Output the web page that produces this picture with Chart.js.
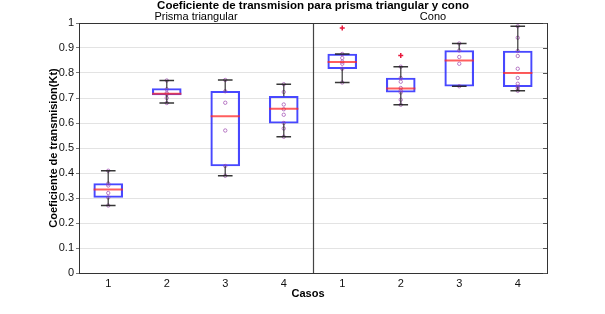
<!DOCTYPE html>
<html><head><meta charset="utf-8">
<script src="https://cdn.jsdelivr.net/npm/chart.js@4/dist/chart.umd.min.js"></script>
<style>html,body{margin:0;padding:0;background:#fff}#wrap{width:605px;height:314px}</style>
</head><body><div id="wrap"><canvas id="c" width="605" height="314"></canvas></div>
<script>
// ---- data ----
const chartTitle = 'Coeficiente de transmision para prisma triangular y cono';
const groupNames = ['Prisma triangular', 'Cono'];
const caseLabels = ['1','2','3','4','1','2','3','4'];
const casePositions = [1,2,3,4,5,6,7,8];
const yTitle = 'Coeficiente de transmision(Kt)';
const xTitle = 'Casos';

const q1      = [0.302, 0.712, 0.428, 0.599, 0.817, 0.723, 0.747, 0.745];
const medians = [0.334, 0.717, 0.627, 0.657, 0.844, 0.738, 0.850, 0.800];
const q3      = [0.358, 0.738, 0.727, 0.707, 0.876, 0.780, 0.890, 0.888];
const whiskLo = [0.270, 0.680, 0.389, 0.545, 0.762, 0.673, 0.747, 0.729];
const whiskHi = [0.409, 0.770, 0.772, 0.755, 0.876, 0.825, 0.918, 0.987];

const obs1 = [0.409, 0.358, 0.350, 0.320, 0.302, 0.270];
const obs2 = [0.770, 0.735, 0.720, 0.715, 0.700, 0.680];
const obs3 = [0.772, 0.727, 0.681, 0.570, 0.428, 0.389];
const obs4 = [0.755, 0.724, 0.674, 0.655, 0.633, 0.600, 0.578, 0.545];
const obs5 = [0.876, 0.860, 0.845, 0.837, 0.817, 0.762];
const obs6 = [0.825, 0.780, 0.765, 0.740, 0.730, 0.722, 0.693, 0.673];
const obs7 = [0.918, 0.890, 0.864, 0.837, 0.747];
const obs8 = [0.987, 0.941, 0.888, 0.868, 0.817, 0.780, 0.757, 0.745, 0.738, 0.729];
const observations = [obs1, obs2, obs3, obs4, obs5, obs6, obs7, obs8];

const outlierCases  = [5, 6];
const outlierValues = [0.980, 0.870];

// ---- build datasets ----
const pointData = [];
observations.forEach((arr, i) => arr.forEach(v => pointData.push({x: casePositions[i], y: v})));
const outlierData = outlierCases.map((c, i) => ({x: c, y: outlierValues[i]}));
const boxData = casePositions.map((p, i) => ({x: p, y: [q1[i], q3[i]]}));

const FONT = '"Liberation Sans", Arial, sans-serif';

const boxExtras = {
  id: 'boxExtras',
  beforeDatasetsDraw(chart) {
    const {ctx, scales: {x}, chartArea: a} = chart;
    ctx.save();
    ctx.strokeStyle = '#444';
    ctx.lineWidth = 1.2;
    const dx = Math.round(x.getPixelForValue(4.5)) + 0.5;
    ctx.beginPath(); ctx.moveTo(dx, a.top); ctx.lineTo(dx, a.bottom); ctx.stroke();
    ctx.restore();
  },
  afterDatasetsDraw(chart) {
    const {ctx, scales: {x, y}} = chart;
    ctx.save();
    casePositions.forEach((p, i) => {
      const px = x.getPixelForValue(p);
      const cap = x.getPixelForValue(p + 0.125) - px;
      const half = x.getPixelForValue(p + 0.25) - px;
      ctx.strokeStyle = 'rgba(40,40,40,0.75)';
      ctx.lineWidth = 1.5;
      ctx.beginPath();
      ctx.moveTo(px, y.getPixelForValue(q3[i])); ctx.lineTo(px, y.getPixelForValue(whiskHi[i]));
      ctx.moveTo(px, y.getPixelForValue(q1[i])); ctx.lineTo(px, y.getPixelForValue(whiskLo[i]));
      ctx.stroke();
      ctx.strokeStyle = 'rgba(20,20,20,0.85)';
      ctx.beginPath();
      const yh = y.getPixelForValue(whiskHi[i]), yl = y.getPixelForValue(whiskLo[i]);
      ctx.moveTo(px - cap, yh); ctx.lineTo(px + cap, yh);
      ctx.moveTo(px - cap, yl); ctx.lineTo(px + cap, yl);
      ctx.stroke();
      ctx.strokeStyle = 'rgba(255,40,40,0.75)';
      ctx.lineWidth = 2;
      const ym = y.getPixelForValue(medians[i]);
      ctx.beginPath(); ctx.moveTo(px - half, ym); ctx.lineTo(px + half, ym); ctx.stroke();
    });
    ctx.restore();
  },
  afterDraw(chart) {
    const {ctx, scales: {x, y}, chartArea: a} = chart;
    ctx.save();
    ctx.strokeStyle = '#333';
    ctx.lineWidth = 1;
    ctx.strokeRect(Math.round(a.left) + 0.5, Math.round(a.top) + 0.5, Math.round(a.right - a.left), Math.round(a.bottom - a.top));
    ctx.strokeStyle = '#555';
    y.ticks.forEach(t => {
      const py = Math.round(y.getPixelForValue(t.value)) + 0.5;
      ctx.beginPath(); ctx.moveTo(a.right - 4, py); ctx.lineTo(a.right, py); ctx.stroke();
    });
    ctx.fillStyle = '#000';
    ctx.textAlign = 'center';
    ctx.textBaseline = 'middle';
    ctx.font = 'bold 11.5px ' + FONT;
    ctx.fillText(chartTitle, (a.left + a.right) / 2, 6);
    ctx.font = '11px ' + FONT;
    ctx.fillText(groupNames[0], x.getPixelForValue(2.5), 17);
    ctx.fillText(groupNames[1], x.getPixelForValue(6.5) + 3, 17);
    ctx.font = 'bold 11px ' + FONT;
    ctx.fillText(xTitle, (a.left + a.right) / 2 - 5, 294);
    ctx.translate(54, (a.top + a.bottom) / 2);
    ctx.rotate(-Math.PI / 2);
    ctx.fillText(yTitle, 0, 0);
    ctx.restore();
  }
};

new Chart(document.getElementById('c'), {
  type: 'bar',
  data: {
    datasets: [
      {
        type: 'scatter',
        data: outlierData,
        pointStyle: 'cross',
        pointRadius: 2.5,
        borderColor: 'rgba(230,0,40,0.9)',
        borderWidth: 1.5,
        backgroundColor: 'rgba(230,0,40,0.9)'
      },
      {
        type: 'scatter',
        data: pointData,
        pointStyle: 'circle',
        pointRadius: 1.7,
        borderColor: 'rgba(150,60,170,0.65)',
        borderWidth: 1,
        backgroundColor: 'rgba(0,0,0,0)'
      },
      {
        type: 'bar',
        data: boxData,
        backgroundColor: 'rgba(0,0,0,0)',
        borderColor: 'rgba(40,40,255,0.85)',
        borderWidth: 1.5,
        borderSkipped: false,
        barThickness: 29
      }
    ]
  },
  options: {
    responsive: false,
    animation: false,
    layout: {padding: {top: 23, right: 58, left: 0, bottom: 0}},
    plugins: {legend: {display: false}, tooltip: {enabled: false}, title: {display: false}},
    scales: {
      x: {
        type: 'linear',
        offset: false,
        min: 0.5, max: 8.5,
        afterBuildTicks: s => { s.ticks = casePositions.map(v => ({value: v})); },
        afterFit: s => { s.height = 41; },
        grid: {display: false, drawTicks: false, offset: false},
        border: {display: false},
        ticks: {
          callback: (v, idx) => caseLabels[idx],
          color: '#111',
          font: {family: FONT, size: 11},
          padding: 4,
          maxRotation: 0,
          autoSkip: false
        }
      },
      y: {
        min: 0, max: 1,
        afterFit: s => { s.width = 79; },
        grid: {color: '#e3e3e3', lineWidth: 1, drawTicks: true, tickLength: 3, tickColor: '#777'},
        border: {display: false},
        ticks: {
          stepSize: 0.1,
          color: '#111',
          font: {family: FONT, size: 11},
          padding: 2,
          callback: v => String(Math.round(v * 10) / 10)
        }
      }
    }
  },
  plugins: [boxExtras]
});
</script>
</body></html>
